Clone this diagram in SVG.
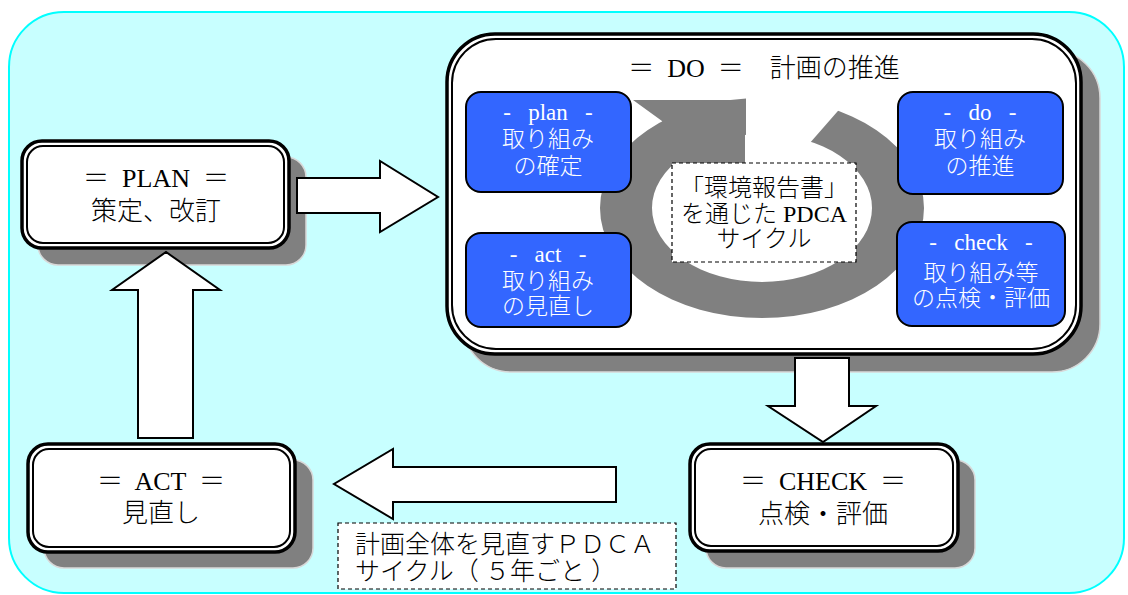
<svg xmlns="http://www.w3.org/2000/svg" width="1128" height="595" viewBox="0 0 1128 595">
  <defs>
    <style>
      .bg { fill: #C8FFFF; stroke: #00FFFF; stroke-width: 2; }
      .shadow { fill: #808080; stroke: #D8D8D8; stroke-width: 1.5; }
      .outer { fill: #FFFFFF; stroke: #000000; stroke-width: 3.5; }
      .inner { fill: none; stroke: #000000; stroke-width: 2; }
      .blue { fill: #3366FF; stroke: #000000; stroke-width: 2; }
      .dash { fill: #FFFFFF; stroke: #000000; stroke-width: 1.2; stroke-dasharray: 4 3; }
      .fat { fill: #FFFFFF; stroke: #000000; stroke-width: 2; stroke-linejoin: miter; }
      .ring { fill: #808080; }
      text { font-family: "Liberation Serif", "Noto Sans CJK JP", serif; font-weight: 300; white-space: pre; }
      .lbl { font-size: 26px; fill: #000000; text-anchor: middle; }
      .wlbl { font-size: 23px; fill: #FFFFFF; text-anchor: middle; }
      .mid { font-size: 24px; fill: #000000; text-anchor: middle; }
      .note { font-size: 25px; fill: #000000; }
    </style>
  </defs>

  <!-- panel -->
  <rect class="bg" x="9" y="12" width="1115" height="581" rx="55" ry="55"/>

  <!-- PLAN -->
  <g id="node-plan">
    <rect class="shadow" x="38" y="157" width="268" height="108" rx="20"/>
    <rect class="outer" x="22" y="141" width="267" height="107" rx="20"/>
    <rect class="inner" x="27" y="146" width="257" height="97" rx="16"/>
    <text class="lbl" x="156" y="187">＝  PLAN  ＝</text>
    <text class="lbl" x="156" y="220">策定、改訂</text>
  </g>

  <!-- DO -->
  <g id="node-do">
    <rect class="shadow" x="463" y="50" width="637" height="322" rx="48"/>
    <rect class="outer" x="447" y="34" width="634" height="320" rx="48"/>
    <rect class="inner" x="452" y="39" width="624" height="310" rx="44"/>
    <text class="lbl" x="764" y="77">＝  DO  ＝　計画の推進</text>

    <!-- circular arrow -->
    <g id="cycle-arrow">
      <path class="ring" fill-rule="evenodd" d="M600,208 a162,110 0 1,0 324,0 a162,110 0 1,0 -324,0 Z M652,208 a110,74 0 1,0 220,0 a110,74 0 1,0 -220,0 Z"/>
      <polygon fill="#FFFFFF" points="746,88 858,88 795,160 746,160"/>
      <polygon class="ring" points="633,100 745,100 745,180 680,180 662,121"/>
    </g>

    <g id="step-plan">
      <rect class="blue" x="466" y="92" width="165" height="100" rx="15"/>
      <text class="wlbl" x="548" y="120">-   plan   -</text>
      <text class="wlbl" x="548" y="147">取り組み</text>
      <text class="wlbl" x="548" y="174">の確定</text>
    </g>
    <g id="step-act">
      <rect class="blue" x="466" y="233" width="165" height="94" rx="15"/>
      <text class="wlbl" x="548" y="262">-   act   -</text>
      <text class="wlbl" x="548" y="289">取り組み</text>
      <text class="wlbl" x="548" y="314">の見直し</text>
    </g>
    <g id="step-do">
      <rect class="blue" x="898" y="92" width="165" height="102" rx="15"/>
      <text class="wlbl" x="980" y="120">-   do   -</text>
      <text class="wlbl" x="980" y="147">取り組み</text>
      <text class="wlbl" x="980" y="174">の推進</text>
    </g>
    <g id="step-check">
      <rect class="blue" x="897" y="222" width="168" height="104" rx="15"/>
      <text class="wlbl" x="981" y="250">-   check   -</text>
      <text class="wlbl" x="981" y="281">取り組み等</text>
      <text class="wlbl" x="981" y="306">の点検・評価</text>
    </g>

    <g id="cycle-caption">
      <rect class="dash" x="672" y="163" width="184" height="99"/>
      <text class="mid" x="764" y="196">「環境報告書」</text>
      <text class="mid" x="764" y="222">を通じた PDCA</text>
      <text class="mid" x="764" y="247">サイクル</text>
    </g>
  </g>

  <!-- ACT -->
  <g id="node-act">
    <rect class="shadow" x="44" y="460" width="269" height="108" rx="20"/>
    <rect class="outer" x="28" y="444" width="267" height="108" rx="20"/>
    <rect class="inner" x="33" y="449" width="257" height="98" rx="16"/>
    <text class="lbl" x="161" y="490">＝  ACT  ＝</text>
    <text class="lbl" x="161" y="522">見直し</text>
  </g>

  <!-- CHECK -->
  <g id="node-check">
    <rect class="shadow" x="706" y="460" width="269" height="108" rx="20"/>
    <rect class="outer" x="690" y="444" width="268" height="107" rx="20"/>
    <rect class="inner" x="695" y="449" width="258" height="97" rx="16"/>
    <text class="lbl" x="823" y="490">＝  CHECK  ＝</text>
    <text class="lbl" x="823" y="523">点検・評価</text>
  </g>

  <!-- block arrows between stages -->
  <g id="connectors">
    <polygon class="fat" points="297,178 380,178 380,161 438,197 380,232 380,213 297,213"/>
    <polygon class="fat" points="795,358 849,358 849,406 876,406 823,442 768,406 795,406"/>
    <polygon class="fat" points="616,467 393,467 393,449 334,484 393,519 393,502 616,502"/>
    <polygon class="fat" points="138,438 138,290 112,290 166,252 220,290 193,290 193,438"/>
  </g>

  <!-- five-year review note -->
  <g id="note-review">
    <rect class="dash" x="338" y="523" width="338" height="66"/>
    <text class="note" x="355" y="553">計画全体を見直すＰＤＣＡ</text>
    <text class="note" x="355" y="580">サイクル（ ５年ごと ）</text>
  </g>
</svg>
